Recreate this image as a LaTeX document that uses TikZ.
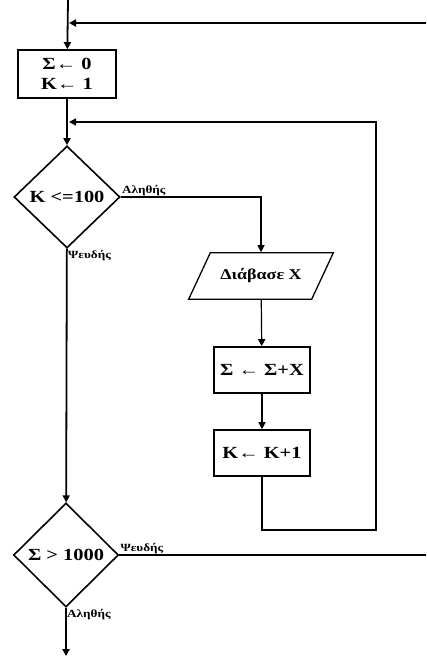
\documentclass[tikz,border=0pt]{standalone}
\usepackage{fontspec}
\setmainfont{Liberation Serif}
\newfontfamily\flowfont[FakeStretch=1.2]{Liberation Serif}
\usetikzlibrary{arrows.meta,shapes.geometric}

\begin{document}
\begin{tikzpicture}[x=1pt,y=-1pt,
    stepbox/.style={draw,line width=1.6pt,align=center,inner sep=0pt,
                    font=\flowfont\bfseries\fontsize{17}{20}\selectfont,
                    minimum width=96pt,minimum height=46pt},
    decision/.style={draw,diamond,line width=1.6pt,inner sep=0pt,
                     font=\flowfont\bfseries\fontsize{17}{20}\selectfont,
                     minimum width=106pt,minimum height=102pt},
    inputbox/.style={draw,trapezium,trapezium left angle=65,trapezium right angle=115,
                     line width=1.3pt,inner xsep=10pt,inner ysep=16pt,
                     font=\flowfont\bfseries\fontsize{15}{18}\selectfont},
    branch/.style={font=\flowfont\bfseries\fontsize{11}{12}\selectfont,inner sep=1pt},
    flow/.style={-{Triangle[length=7pt,width=7pt]},line width=1.8pt},
    thinflow/.style={-{Triangle[length=7pt,width=7pt]},line width=1.2pt}
]
\useasboundingbox (0,0) rectangle (426,656);
\clip (0,0) rectangle (426,656);
\coordinate (start) at (68,0);
\node[stepbox,minimum width=98pt,minimum height=48pt] (init) at (67,74) {Σ← 0\\K← 1};
\node[decision] (cond1) at (67,197) {K <=100};
\node[inputbox] (read) at (261,276) {Διάβασε X};
\node[stepbox] (add) at (262,370) {Σ ← Σ+X};
\node[stepbox] (inc) at (262,453) {K← K+1};
\node[decision,minimum width=105pt,minimum height=104pt] (cond2) at (66,555) {Σ > 1000};
\coordinate (stop) at (66,656);
\node[branch,anchor=south west] at (cond1.east) {Αληθής};
\node[branch,anchor=north west] at (cond1.south) {Ψευδής};
\node[branch,anchor=south west] at (cond2.east) {Ψευδής};
\node[branch,anchor=north west] at (cond2.south) {Αληθής};
\draw[flow] (start) -- (init);
\draw[flow] (init) -- (cond1);
\draw[thinflow] (cond1.east) -| (read);
\draw[thinflow] (read) -- (add);
\draw[thinflow] (add) -- (inc);
\coordinate (loopin) at (69,122);
\coordinate (loopturn) at (376,530);
\draw[flow,line width=1.5pt] (inc.south) |- (loopturn) |- (loopin);
\draw[flow] (cond1) -- (cond2);
\coordinate (outin) at (69,23);
\coordinate (outturn) at (430,555);
\draw[flow] (cond2.east) -- (outturn) |- (outin);
\draw[flow] (cond2) -- (stop);
\end{tikzpicture}
\end{document}
